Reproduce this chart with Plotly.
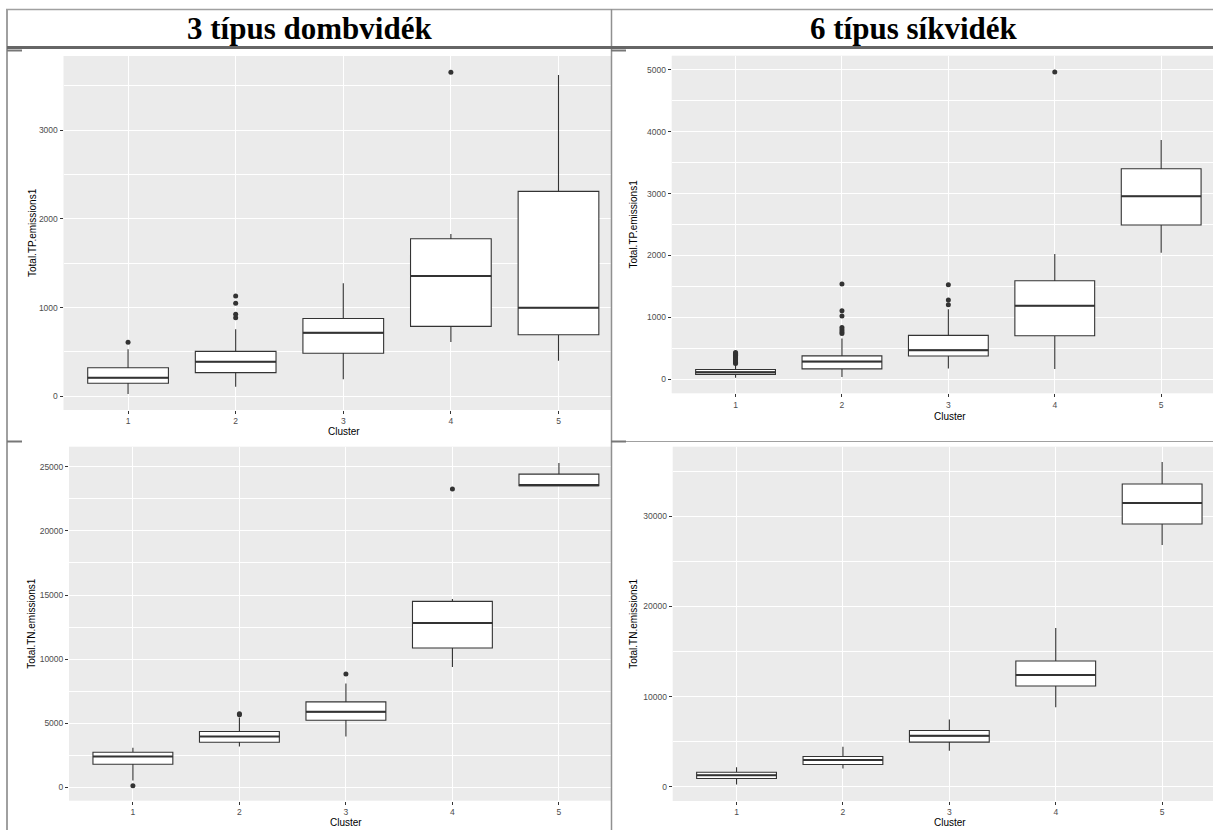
import plotly.graph_objects as go

W, H = 1213, 830

clusters = [1, 2, 3, 4, 5]
tick_labels = ["1", "2", "3", "4", "5"]

# Panel 1: 3 típus dombvidék - Total.TP.emissions1
tp_domb_low = [26, 109, 192, 612, 401]
tp_domb_q1 = [147, 267, 485, 789, 695]
tp_domb_med = [210, 391, 716, 1356, 999]
tp_domb_q3 = [322, 507, 878, 1777, 2311]
tp_domb_up = [530, 756, 1274, 1830, 3622]
tp_domb_out_x = [1, 2, 2, 2, 2, 4]
tp_domb_out_y = [609, 887, 925, 1049, 1132, 3653]

# Panel 2: 6 típus síkvidék - Total.TP.emissions1
tp_sik_low = [24, 38, 175, 166, 2045]
tp_sik_q1 = [79, 168, 377, 704, 2493]
tp_sik_med = [116, 286, 471, 1189, 2956]
tp_sik_q3 = [159, 378, 710, 1593, 3402]
tp_sik_up = [240, 659, 1133, 2024, 3866]
tp_sik_out_x = [1] * 13 + [2] * 7 + [3] * 3 + [4]
tp_sik_out_y = [255, 270, 285, 300, 315, 330, 345, 360, 375, 390, 405, 420, 435,
                741, 768, 800, 838, 1022, 1108, 1541,
                1205, 1281, 1528,
                4964]

# Panel 3: 3 típus dombvidék - Total.TN.emissions1
tn_domb_low = [530, 3177, 3958, 9380, 23530]
tn_domb_q1 = [1795, 3516, 5234, 10870, 23530]
tn_domb_med = [2405, 3958, 5885, 12820, 23560]
tn_domb_q3 = [2732, 4349, 6667, 14500, 24430]
tn_domb_up = [3094, 5450, 8100, 14680, 25300]
tn_domb_out_x = [1, 2, 2, 3, 4]
tn_domb_out_y = [130, 5650, 5730, 8830, 23270]

# Panel 4: 6 típus síkvidék - Total.TN.emissions1
tn_sik_low = [240, 2030, 3985, 8830, 26830]
tn_sik_q1 = [910, 2472, 4945, 11180, 29160]
tn_sik_med = [1260, 2952, 5646, 12400, 31490]
tn_sik_q3 = [1610, 3358, 6236, 13950, 33600]
tn_sik_up = [2147, 4428, 7454, 17610, 36040]
tn_sik_out_x = []
tn_sik_out_y = []

titles = ["3 típus dombvidék", "6 típus síkvidék"]
y_titles = ["Total.TP.emissions1", "Total.TP.emissions1",
            "Total.TN.emissions1", "Total.TN.emissions1"]
x_title = "Cluster"


def px_x(p):
    return p / W


def px_y(p):
    return 1 - p / H


panels = [
    dict(low=tp_domb_low, q1=tp_domb_q1, med=tp_domb_med, q3=tp_domb_q3, up=tp_domb_up,
         ox=tp_domb_out_x, oy=tp_domb_out_y,
         xd=(63.5, 611), yd=(56, 410), xr=[0.4, 5.488], yr=[-154, 3837],
         dtick=1000, ytitle_x=32, xtitle_y=431.5, xcenter=343.7),
    dict(low=tp_sik_low, q1=tp_sik_q1, med=tp_sik_med, q3=tp_sik_q3, up=tp_sik_up,
         ox=tp_sik_out_x, oy=tp_sik_out_y,
         xd=(671.7, 1213), yd=(55.7, 393.3), xr=[0.4, 5.487], yr=[-226, 5228],
         dtick=1000, ytitle_x=633, xtitle_y=416, xcenter=949.5),
    dict(low=tn_domb_low, q1=tn_domb_q1, med=tn_domb_med, q3=tn_domb_q3, up=tn_domb_up,
         ox=tn_domb_out_x, oy=tn_domb_out_y,
         xd=(69, 611), yd=(446.7, 800.7), xr=[0.4, 5.489], yr=[-1045, 26568],
         dtick=5000, ytitle_x=32, xtitle_y=822.7, xcenter=346),
    dict(low=tn_sik_low, q1=tn_sik_q1, med=tn_sik_med, q3=tn_sik_q3, up=tn_sik_up,
         ox=tn_sik_out_x, oy=tn_sik_out_y,
         xd=(672.7, 1213), yd=(446.7, 801), xr=[0.4, 5.478], yr=[-1587, 37736],
         dtick=10000, ytitle_x=634, xtitle_y=822.7, xcenter=949.5),
]

fig = go.Figure()
annotations = []
BOXW = 0.75
DARK = "#333333"

for i, p in enumerate(panels):
    n = "" if i == 0 else str(i + 1)
    xa, ya = "x" + n, "y" + n
    fig.add_trace(go.Box(
        x=clusters, q1=p["q1"], median=p["med"], q3=p["q3"],
        lowerfence=p["low"], upperfence=p["up"],
        width=BOXW, whiskerwidth=0, boxpoints=False,
        fillcolor="white", line=dict(color=DARK, width=1.1),
        xaxis=xa, yaxis=ya, showlegend=False, hoverinfo="skip"))
    # thicker median (ggplot fatten)
    mx, my = [], []
    for c, m in zip(clusters, p["med"]):
        mx += [c - BOXW / 2, c + BOXW / 2, None]
        my += [m, m, None]
    fig.add_trace(go.Scatter(x=mx, y=my, mode="lines",
                             line=dict(color=DARK, width=2),
                             xaxis=xa, yaxis=ya, showlegend=False, hoverinfo="skip"))
    if p["ox"]:
        fig.add_trace(go.Scatter(x=p["ox"], y=p["oy"], mode="markers",
                                 marker=dict(color=DARK, size=5),
                                 xaxis=xa, yaxis=ya, showlegend=False, hoverinfo="skip"))
    axis_common = dict(showline=False, zeroline=False, ticks="outside", ticklen=3,
                       tickwidth=1, tickcolor=DARK,
                       tickfont=dict(family="Liberation Sans, Arial", size=8.5, color="#4D4D4D"),
                       gridcolor="white", gridwidth=1.1)
    fig.layout["xaxis" + n] = dict(
        domain=[px_x(p["xd"][0]), px_x(p["xd"][1])], anchor=ya,
        range=p["xr"], tickvals=clusters, ticktext=tick_labels, **axis_common)
    fig.layout["yaxis" + n] = dict(
        domain=[px_y(p["yd"][1]), px_y(p["yd"][0])], anchor=xa,
        range=p["yr"], dtick=p["dtick"], tick0=0, tickformat="d",
        minor=dict(dtick=p["dtick"] / 2, showgrid=True, gridcolor="white", gridwidth=0.6),
        **axis_common)
    annotations.append(dict(
        text=y_titles[i], textangle=-90, xref="paper", yref="paper",
        x=px_x(p["ytitle_x"]), y=px_y((p["yd"][0] + p["yd"][1]) / 2),
        xanchor="center", yanchor="middle", showarrow=False,
        font=dict(family="Liberation Sans, Arial", size=10, color="black")))
    annotations.append(dict(
        text=x_title, xref="paper", yref="paper",
        x=px_x(p["xcenter"]), y=px_y(p["xtitle_y"]),
        xanchor="center", yanchor="middle", showarrow=False,
        font=dict(family="Liberation Sans, Arial", size=10, color="black")))

# column titles
for t, cx in zip(titles, [309.3, 914.3]):
    annotations.append(dict(
        text="<b>" + t + "</b>", xref="paper", yref="paper",
        x=px_x(cx), y=px_y(28), xanchor="center", yanchor="middle", showarrow=False,
        font=dict(family="Liberation Serif, Times New Roman, serif", size=31, color="black")))

# table border lines
GRAY = "#A0A0A0"
shapes = []


def hline(x0, x1, y, color, width):
    shapes.append(dict(type="line", xref="paper", yref="paper",
                       x0=px_x(x0), x1=px_x(x1), y0=px_y(y), y1=px_y(y),
                       line=dict(color=color, width=width)))


def vline(x, y0, y1, color, width):
    shapes.append(dict(type="line", xref="paper", yref="paper",
                       x0=px_x(x), x1=px_x(x), y0=px_y(y0), y1=px_y(y1),
                       line=dict(color=color, width=width)))


hline(6, 1213, 9.5, GRAY, 1.5)
vline(7, 9, 830, GRAY, 2)
vline(611.5, 9, 830, "#909090", 1.5)
hline(7, 1213, 47.5, "#666666", 3)
hline(611.5, 1213, 441.5, GRAY, 1)
for (a, b, y) in [(7, 22, 50.5), (611, 626, 50.5), (7, 22, 441.5), (611, 626, 441.5)]:
    hline(a, b, y, "#777777", 2)

fig.update_layout(
    width=W, height=H, autosize=False,
    margin=dict(l=0, r=0, t=0, b=0),
    paper_bgcolor="white", plot_bgcolor="#EBEBEB",
    annotations=annotations, shapes=shapes, showlegend=False,
)

fig.write_html("out.html")
